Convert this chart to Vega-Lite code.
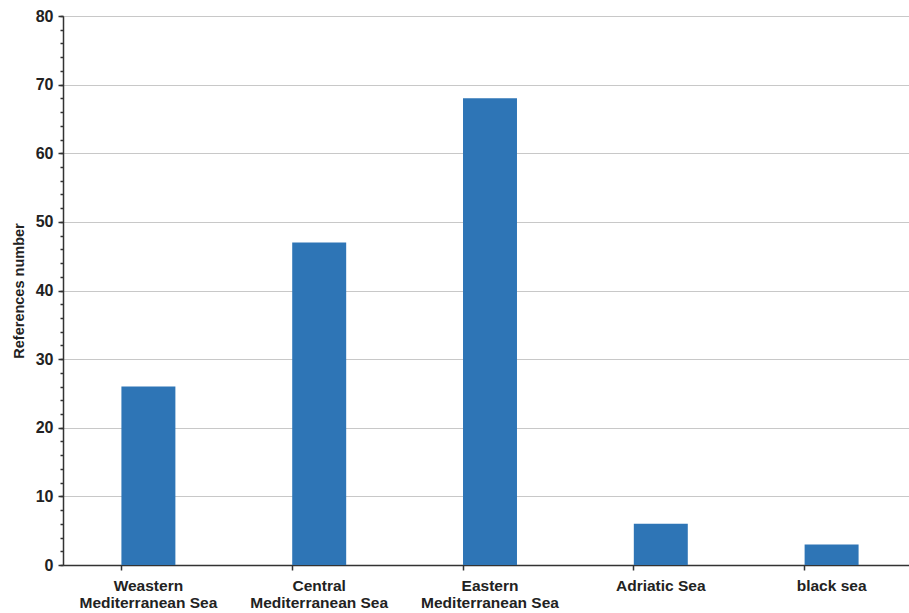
{
  "$schema": "https://vega.github.io/schema/vega-lite/v6.json",
  "width": 846,
  "height": 549,
  "autosize": {"type": "none"},
  "padding": {"left": 63, "top": 16, "right": 0, "bottom": 48},
  "background": "white",
  "config": {
    "view": {"stroke": null},
    "font": "Liberation Sans",
    "axis": {
      "labelFont": "Liberation Sans",
      "titleFont": "Liberation Sans",
      "labelFontWeight": "bold",
      "titleFontWeight": "bold",
      "labelColor": "#222222",
      "titleColor": "#222222",
      "domainColor": "#333333",
      "tickColor": "#333333",
      "domainWidth": 1.5,
      "tickWidth": 1.5
    }
  },
  "data": {
    "values": [
      {"region": "Weastern Mediterranean Sea", "references": 26},
      {"region": "Central Mediterranean Sea", "references": 47},
      {"region": "Eastern Mediterranean Sea", "references": 68},
      {"region": "Adriatic Sea", "references": 6},
      {"region": "black sea", "references": 3}
    ]
  },
  "layer": [
    {
      "mark": {"type": "bar", "color": "#2E75B6"},
      "encoding": {
        "x": {
          "field": "region",
          "type": "nominal",
          "sort": null,
          "scale": {"paddingInner": 0.684, "paddingOuter": 0.342, "range": [0, 854]},
          "axis": {
            "title": null,
            "labelAngle": 0,
            "labelFontSize": 15.5,
            "labelPadding": 8,
            "labelLineHeight": 17,
            "bandPosition": 0,
            "tickSize": 5,
            "labelExpr": "indexof(datum.label, ' Mediterranean') > 0 ? [slice(datum.label, 0, indexof(datum.label, ' Mediterranean')), 'Mediterranean Sea'] : datum.label"
          }
        },
        "y": {
          "field": "references",
          "type": "quantitative",
          "scale": {"domain": [0, 80], "nice": false},
          "axis": {
            "title": "References number",
            "titleFontSize": 14.5,
            "titlePadding": 9,
            "labelFontSize": 16,
            "values": [0, 10, 20, 30, 40, 50, 60, 70, 80],
            "tickSize": 5,
            "labelPadding": 5,
            "grid": true,
            "gridColor": "#c8c8c8",
            "gridWidth": 1
          }
        }
      }
    },
    {
      "mark": {"type": "bar", "opacity": 0},
      "encoding": {
        "x": {"field": "region", "type": "nominal", "sort": null, "scale": {"paddingInner": 0.684, "paddingOuter": 0.342, "range": [0, 854]}},
        "y": {
          "field": "references",
          "type": "quantitative",
          "scale": {"domain": [0, 80], "nice": false},
          "axis": {
            "orient": "left",
            "title": null,
            "labels": false,
            "domain": false,
            "grid": false,
            "tickSize": 3,
            "values": [0, 2, 4, 6, 8, 10, 12, 14, 16, 18, 20, 22, 24, 26, 28, 30, 32, 34, 36, 38, 40, 42, 44, 46, 48, 50, 52, 54, 56, 58, 60, 62, 64, 66, 68, 70, 72, 74, 76, 78, 80]
          }
        }
      }
    }
  ],
  "resolve": {"scale": {"y": "independent"}, "axis": {"y": "independent"}}
}
